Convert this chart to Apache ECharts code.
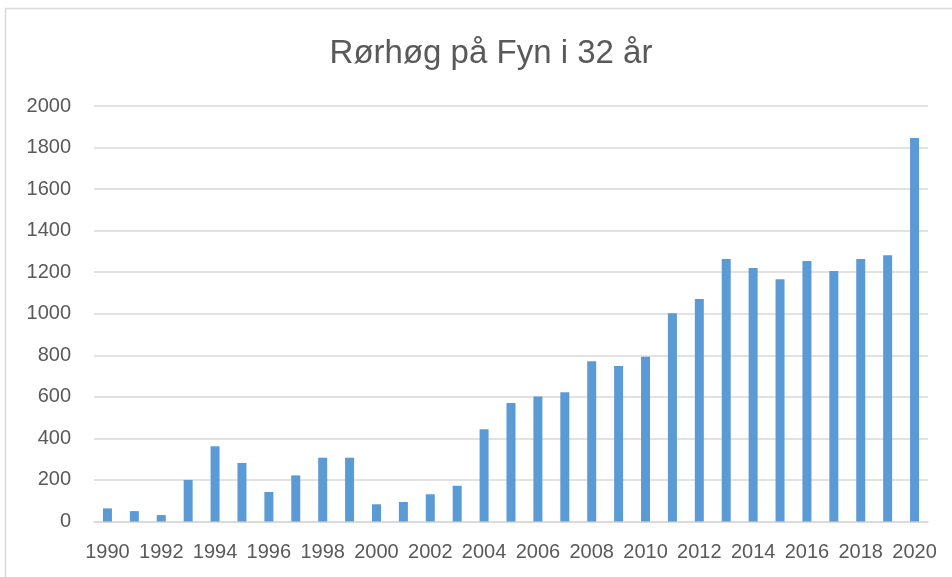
<!DOCTYPE html>
<html>
<head>
<meta charset="utf-8">
<script src="https://cdn.jsdelivr.net/npm/echarts@6/dist/echarts.min.js"></script>
<style>html,body{margin:0;padding:0;background:#fff;}#c{width:952px;height:577px;}</style>
</head>
<body>
<div id="c"></div>
<script>
const titleText = 'Rørhøg på Fyn i 32 år';
const years = ['1990','1991','1992','1993','1994','1995','1996','1997','1998','1999','2000','2001','2002','2003','2004','2005','2006','2007','2008','2009','2010','2011','2012','2013','2014','2015','2016','2017','2018','2019','2020'];
const counts = [63,50,31,200,362,282,142,222,307,307,83,94,131,172,444,570,602,622,771,748,793,1002,1071,1263,1220,1166,1254,1206,1263,1281,1846];
const yTicks = {min: 0, max: 2000, interval: 200};

const chart = echarts.init(document.getElementById('c'), null, {renderer: 'canvas'});
const textColor = '#595959';
const font = 'Liberation Sans, Arial, sans-serif';
chart.setOption({
  animation: false,
  backgroundColor: '#ffffff',
  title: {
    text: titleText,
    left: 486,
    textAlign: 'center',
    top: 32,
    textStyle: {fontFamily: font, fontSize: 33, fontWeight: 'normal', color: textColor}
  },
  graphic: [{
    type: 'rect',
    shape: {x: 5.5, y: 8.5, width: 1000, height: 700},
    style: {fill: null, stroke: '#D9D9D9', lineWidth: 1.5},
    silent: true
  }],
  grid: {left: 94, right: 24, top: 106, bottom: 55.5, containLabel: false},
  xAxis: {
    type: 'category',
    data: years,
    boundaryGap: true,
    axisLine: {show: true, lineStyle: {color: '#D9D9D9', width: 1.5}},
    axisTick: {show: false},
    axisLabel: {interval: 1, margin: 21, color: textColor, fontFamily: font, fontSize: 20}
  },
  yAxis: {
    type: 'value',
    min: yTicks.min, max: yTicks.max, interval: yTicks.interval,
    axisLine: {show: false},
    axisTick: {show: false},
    splitLine: {lineStyle: {color: '#D9D9D9', width: 1.5}},
    axisLabel: {margin: 23, color: textColor, fontFamily: font, fontSize: 20, formatter: function (v) { return String(v); }}
  },
  series: [{
    type: 'bar',
    data: counts,
    barWidth: 9,
    itemStyle: {color: '#5B9BD5'}
  }]
});
</script>
</body>
</html>
